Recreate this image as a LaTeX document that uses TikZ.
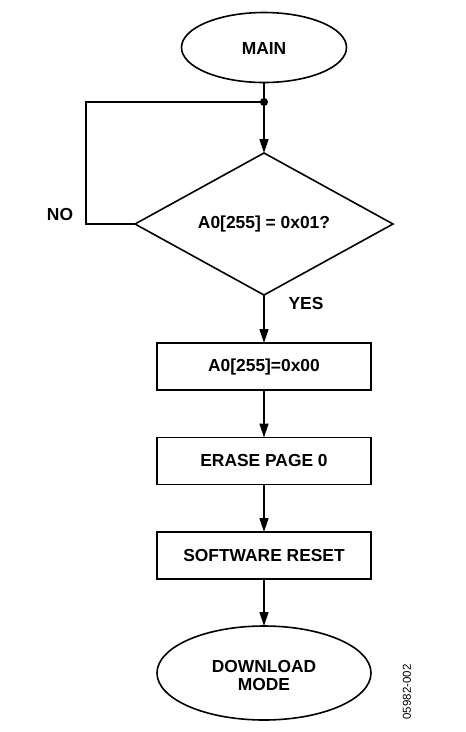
\documentclass[tikz,border=0pt]{standalone}
\usepackage{fontspec}
\setmainfont{Liberation Sans}
\usetikzlibrary{shapes.geometric,arrows.meta}
\begin{document}
\begin{tikzpicture}[x=1pt,y=-1pt,
  every node/.style={font=\fontsize{17.4}{19}\selectfont\bfseries, align=center},
  line/.style={line width=1.6pt},
  arr/.style={line, -{Triangle[length=14pt,width=9pt]}},
  term/.style={draw, line, ellipse, inner sep=0pt, outer sep=0pt},
  procbox/.style={draw, line, rectangle, minimum width=214pt, minimum height=47pt, inner sep=0pt, outer sep=0pt},
  decision/.style={draw, line, diamond, shape aspect=1.8, minimum width=258pt, minimum height=142pt, inner sep=0pt, outer sep=0pt},
  lbl/.style={inner sep=0pt}]
\useasboundingbox (0,0) rectangle (466,732);
\node[term, minimum width=165pt, minimum height=70pt] (main) at (264,47.5) {\raisebox{-1.5pt}[\height][\depth]{MAIN}};
\node[circle, fill, inner sep=0pt, minimum size=8pt] (j) at (264,102) {};
\node[decision] (d) at (264,224) {A0[255] = 0x01?};
\node[procbox] (b1) at (264,366.5) {A0[255]=0x00};
\node[procbox] (b2) at (264,461) {ERASE PAGE 0};
\node[procbox] (b3) at (264,555.5) {SOFTWARE RESET};
\node[term, minimum width=214pt, minimum height=94pt] (dl) at (264,673) {\raisebox{-5pt}[\height][\depth]{\begin{tabular}{@{}c@{}}DOWNLOAD\\[-1pt]MODE\end{tabular}}};
\node[lbl] (no) at (60,215) {NO};
\node[lbl] (yes) at (306,304) {YES};
\node[lbl, rotate=90, font=\fontsize{11.5}{13}\selectfont] (fig) at (407,692) {05982-002};
\coordinate (lc) at (86,102);
\draw[line] (main.south) -- (j.center);
\draw[arr] (j.center) -- (d.north);
\draw[line] (j.center) -- (lc) |- (d.west);
\draw[arr] (d.south) -- (b1.north);
\draw[arr] (b1.south) -- (b2.north);
\draw[arr] (b2.south) -- (b3.north);
\draw[arr] (b3.south) -- (dl.north);
\end{tikzpicture}
\end{document}
